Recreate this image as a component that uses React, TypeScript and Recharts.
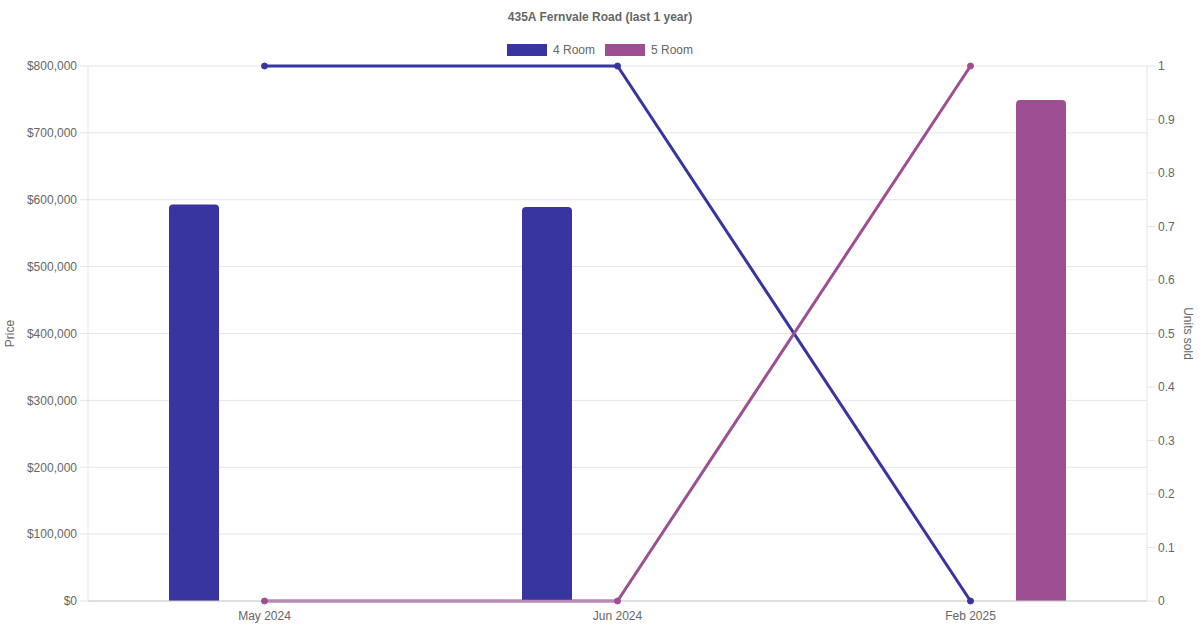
import {
  Bar,
  CartesianGrid,
  ComposedChart,
  Line,
  XAxis,
  YAxis
} from "recharts";

const months = ["May 2024", "Jun 2024", "Feb 2025"];
const price4Room = [593000, 589000, null];
const price5Room = [null, null, 749000];
const units4Room = [1, 1, 0];
const units5Room = [0, 0, 1];
const priceTicks = [0, 100000, 200000, 300000, 400000, 500000, 600000, 700000, 800000];
const unitTicks = [0, 0.1, 0.2, 0.3, 0.4, 0.5, 0.6, 0.7, 0.8, 0.9, 1];

const series = [
  { name: "4 Room", color: "#3935a0" },
  { name: "5 Room", color: "#9e4f93" }
];

const rows = months.map((month, i) => ({
  month,
  p4: price4Room[i],
  p5: price5Room[i],
  u4: units4Room[i],
  u5: units5Room[i]
}));

const font = "'Liberation Sans', Arial, Helvetica, sans-serif";
const tickStyle = { fill: "#666", fontSize: 12, fontFamily: font };

const money = (v: number) => "$" + v.toLocaleString("en-US");

// legend drawn as plain html so it doesn't eat into the plot area
function LegendBox() {
  return (
    <div
      style={{
        position: "absolute",
        top: 43,
        width: 1200,
        display: "flex",
        justifyContent: "center",
        gap: 10,
        fontFamily: font,
        fontSize: 12,
        color: "#666",
        lineHeight: "14px"
      }}
    >
      {series.map((s) => (
        <div key={s.name} style={{ display: "flex", alignItems: "center" }}>
          <span style={{ display: "inline-block", width: 40, height: 12, background: s.color, marginRight: 6 }} />
          {s.name}
        </div>
      ))}
    </div>
  );
}

export default function App() {
  return (
    <div style={{ position: "absolute", left: 0, top: 0, width: 1200, height: 630, background: "#fff" }}>
      <div
        style={{
          position: "absolute",
          top: 10,
          width: 1200,
          textAlign: "center",
          fontFamily: font,
          fontSize: 12,
          fontWeight: "bold",
          color: "#666"
        }}
      >
        435A Fernvale Road (last 1 year)
      </div>
      <LegendBox />
      <ComposedChart
        width={1200}
        height={630}
        data={rows}
        margin={{ top: 66, right: 0, bottom: 0, left: 0 }}
        barGap={91}
      >
        <CartesianGrid yAxisId="price" vertical={false} stroke="#e5e5e5" />
        <XAxis
          dataKey="month"
          height={29}
          tickLine={false}
          tickSize={8}
          tick={tickStyle}
          axisLine={{ stroke: "#ccc" }}
        />
        <YAxis
          yAxisId="price"
          width={88}
          domain={[0, 800000]}
          ticks={priceTicks}
          tickFormatter={money}
          tick={tickStyle}
          tickSize={8}
          tickMargin={3}
          tickLine={{ stroke: "#e5e5e5" }}
          axisLine={{ stroke: "#e5e5e5" }}
          label={{
            value: "Price",
            angle: -90,
            position: "insideLeft",
            offset: 10,
            style: { textAnchor: "middle", fill: "#666", fontSize: 12, fontFamily: font }
          }}
        />
        <YAxis
          yAxisId="units"
          orientation="right"
          width={53}
          domain={[0, 1]}
          ticks={unitTicks}
          tick={tickStyle}
          tickSize={8}
          tickMargin={3}
          tickLine={{ stroke: "#e5e5e5" }}
          axisLine={{ stroke: "#e5e5e5" }}
          label={{
            value: "Units sold",
            angle: 90,
            position: "insideRight",
            offset: 12,
            style: { textAnchor: "middle", fill: "#666", fontSize: 12, fontFamily: font }
          }}
        />
        <Bar yAxisId="price" dataKey="p4" name="4 Room" fill={series[0].color} barSize={50} radius={[4, 4, 0, 0]} isAnimationActive={false} />
        <Bar yAxisId="price" dataKey="p5" name="5 Room" fill={series[1].color} barSize={50} radius={[4, 4, 0, 0]} isAnimationActive={false} />
        <Line
          yAxisId="units"
          dataKey="u4"
          name="4 Room"
          stroke={series[0].color}
          strokeWidth={3}
          dot={{ r: 3, fill: series[0].color, stroke: series[0].color, strokeWidth: 1 }}
          isAnimationActive={false}
        />
        <Line
          yAxisId="units"
          dataKey="u5"
          name="5 Room"
          stroke={series[1].color}
          strokeWidth={3}
          dot={{ r: 3, fill: series[1].color, stroke: series[1].color, strokeWidth: 1 }}
          isAnimationActive={false}
        />
      </ComposedChart>
    </div>
  );
}
